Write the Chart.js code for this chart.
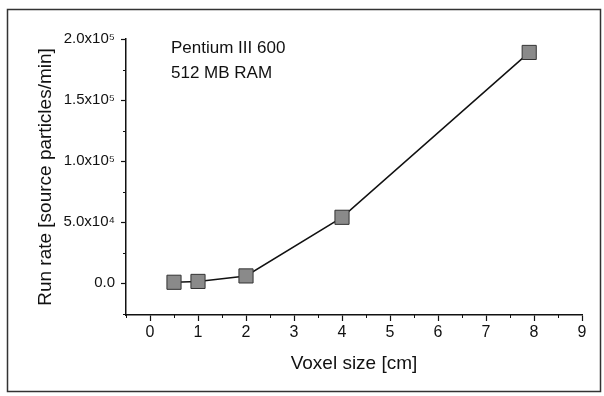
<!DOCTYPE html>
<html>
<head>
<meta charset="utf-8">
<script src="https://cdn.jsdelivr.net/npm/chart.js@4"></script>
<style>
  html, body { margin: 0; padding: 0; background: #fff; }
  #wrap { width: 604px; height: 396px; }
</style>
</head>
<body>
<div id="wrap"><canvas id="runrate" width="604" height="396"></canvas></div>
<script>
// data
var voxelSize = [0.5, 1, 2, 4, 7.9];
var runRate = [800, 1500, 6000, 54000, 189000];
var xTicks = [0, 1, 2, 3, 4, 5, 6, 7, 8, 9];
var yTicks = [0, 50000, 100000, 150000, 200000];
var yTickLabels = ['0.0', '5.0x10\u2074', '1.0x10\u2075', '1.5x10\u2075', '2.0x10\u2075'];
var noteLines = ['Pentium III 600', '512 MB RAM'];

var fontFam = 'Arial, "Liberation Sans", sans-serif';

// frame, note text and the small minor ticks
var extras = {
  id: 'extras',
  beforeDraw: function(chart) {
    var ctx = chart.ctx;
    ctx.save();
    ctx.fillStyle = '#fff';
    ctx.fillRect(0, 0, chart.width, chart.height);
    ctx.strokeStyle = '#333';
    ctx.lineWidth = 1.5;
    ctx.strokeRect(7.5, 9.5, 593, 382);
    ctx.restore();
  },
  afterDraw: function(chart) {
    var ctx = chart.ctx;
    var xs = chart.scales.x, ys = chart.scales.y;
    ctx.save();
    ctx.strokeStyle = '#111';
    ctx.lineWidth = 1;
    ctx.beginPath();
    for (var v = -0.5; v <= 9; v += 0.5) {
      if (Number.isInteger(v)) continue;
      var px = Math.round(xs.getPixelForValue(v)) + 0.5;
      ctx.moveTo(px, xs.top);
      ctx.lineTo(px, xs.top + 3);
    }
    for (var w = -25000; w <= 200000; w += 50000) {
      var py = Math.round(ys.getPixelForValue(w)) + 0.5;
      ctx.moveTo(ys.right, py);
      ctx.lineTo(ys.right - 3, py);
    }
    ctx.stroke();
    ctx.fillStyle = '#111';
    ctx.font = '17px ' + fontFam;
    ctx.textBaseline = 'middle';
    ctx.fillText(noteLines[0], 171, 48);
    ctx.fillText(noteLines[1], 171, 73);
    ctx.restore();
  }
};

new Chart(document.getElementById('runrate'), {
  type: 'line',
  data: {
    datasets: [{
      data: voxelSize.map(function(x, i) { return {x: x, y: runRate[i]}; }),
      borderColor: '#111',
      borderWidth: 1.5,
      tension: 0,
      pointStyle: 'rect',
      pointRadius: 10,
      pointBackgroundColor: '#8a8a8a',
      pointBorderColor: '#333',
      pointBorderWidth: 1
    }]
  },
  options: {
    responsive: false,
    animation: false,
    layout: { padding: { left: 0, right: 22, top: 39, bottom: 21 } },
    plugins: { legend: { display: false }, tooltip: { enabled: false } },
    scales: {
      x: {
        type: 'linear',
        min: -0.5,
        max: 9,
        afterBuildTicks: function(s) { s.ticks = xTicks.map(function(v) { return {value: v}; }); },
        afterFit: function(s) { s.height = 60; },
        grid: { drawOnChartArea: false, tickLength: 6, tickColor: '#111', tickWidth: 1.2 },
        border: { color: '#111', width: 1.5 },
        ticks: { color: '#111', font: { size: 16, family: fontFam }, padding: 2, maxRotation: 0, autoSkip: false },
        title: { display: true, text: 'Voxel size [cm]', color: '#111', font: { size: 19, family: fontFam }, padding: { top: 3, bottom: 0 } }
      },
      y: {
        min: -26000,
        max: 200000,
        afterBuildTicks: function(s) { s.ticks = yTicks.map(function(v) { return {value: v}; }); },
        afterFit: function(s) { s.width = 126; },
        grid: { drawOnChartArea: false, tickLength: 5, tickColor: '#111', tickWidth: 1.2 },
        border: { color: '#111', width: 1.5 },
        ticks: {
          color: '#111',
          font: { size: 15, family: fontFam },
          padding: 6,
          autoSkip: false,
          callback: function(v) { var i = yTicks.indexOf(v); return i >= 0 ? yTickLabels[i] : ''; }
        },
        title: { display: true, text: 'Run rate [source particles/min]', color: '#111', font: { size: 19, family: fontFam }, padding: { top: 34, bottom: 0 } }
      }
    }
  },
  plugins: [extras]
});
</script>
</body>
</html>
